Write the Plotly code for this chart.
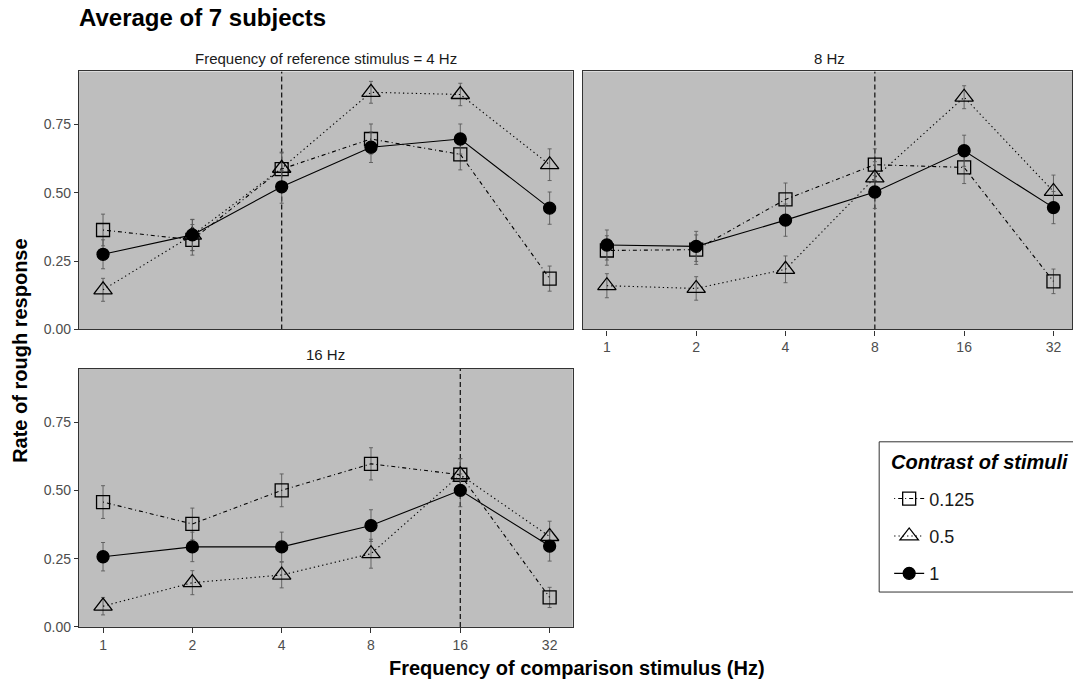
import math
import plotly.graph_objects as go

# Comparison-stimulus frequencies (Hz) shown on every panel
freqs = [1, 2, 4, 8, 16, 32]
freq_labels = ["1", "2", "4", "8", "16", "32"]

# Reference frequency per panel
ref_freqs = [4, 8, 16]
strip_titles = ["Frequency of reference stimulus = 4 Hz", "8 Hz", "16 Hz"]

# Rate of rough responses: [panel][contrast] -> values across freqs
contrast_labels = ["0.125", "0.5", "1"]

rate_ref4_c0125 = [0.364, 0.328, 0.587, 0.697, 0.641, 0.186]
rate_ref4_c05 = [0.145, 0.345, 0.590, 0.868, 0.860, 0.603]
rate_ref4_c1 = [0.275, 0.346, 0.522, 0.667, 0.697, 0.444]

rate_ref8_c0125 = [0.289, 0.292, 0.476, 0.603, 0.593, 0.176]
rate_ref8_c05 = [0.160, 0.150, 0.220, 0.555, 0.850, 0.505]
rate_ref8_c1 = [0.309, 0.304, 0.400, 0.503, 0.654, 0.446]

rate_ref16_c0125 = [0.457, 0.377, 0.500, 0.597, 0.557, 0.108]
rate_ref16_c05 = [0.076, 0.162, 0.190, 0.268, 0.557, 0.331]
rate_ref16_c1 = [0.257, 0.293, 0.293, 0.371, 0.500, 0.296]

# Standard errors
se_ref4_c0125 = [0.058, 0.056, 0.059, 0.055, 0.057, 0.046]
se_ref4_c05 = [0.042, 0.057, 0.059, 0.040, 0.041, 0.058]
se_ref4_c1 = [0.053, 0.057, 0.060, 0.056, 0.055, 0.059]

se_ref8_c0125 = [0.054, 0.054, 0.060, 0.058, 0.059, 0.045]
se_ref8_c05 = [0.044, 0.043, 0.049, 0.059, 0.042, 0.060]
se_ref8_c1 = [0.055, 0.055, 0.059, 0.060, 0.057, 0.059]

se_ref16_c0125 = [0.060, 0.058, 0.060, 0.059, 0.059, 0.037]
se_ref16_c05 = [0.032, 0.044, 0.047, 0.053, 0.059, 0.056]
se_ref16_c1 = [0.052, 0.054, 0.054, 0.058, 0.060, 0.055]

y_ticks = [0.0, 0.25, 0.5, 0.75]
y_tick_labels = ["0.00", "0.25", "0.50", "0.75"]

panels = [
    [(rate_ref4_c0125, se_ref4_c0125), (rate_ref4_c05, se_ref4_c05), (rate_ref4_c1, se_ref4_c1)],
    [(rate_ref8_c0125, se_ref8_c0125), (rate_ref8_c05, se_ref8_c05), (rate_ref8_c1, se_ref8_c1)],
    [(rate_ref16_c0125, se_ref16_c0125), (rate_ref16_c05, se_ref16_c05), (rate_ref16_c1, se_ref16_c1)],
]

W, H = 1073, 689
FONT = "Liberation Sans, Arial, sans-serif"
PANEL_BG = "#BEBEBE"
BORDER = "#333333"
TICK_GREY = "#4D4D4D"
ERR_GREY = "#5A5A5A"

# line types: dot-dash, dotted, solid
styles = [
    dict(symbol="square-open", size=13, dash="1px,3px,4px,3px"),
    dict(symbol="triangle-up-open", size=16, dash="1.3px,3px"),
    dict(symbol="circle", size=12, dash="solid"),
]

# Pixel boxes of the three panels: (left, right, top, bottom)
boxes = [
    (79, 573.3, 72.3, 333.3),
    (583.3, 1073, 72.3, 333.3),
    (79, 573.3, 373.3, 634.3),
]
px_per_oct = 89.4
pad_oct = 0.27
y_top = 261.0 / 276.4

fig = go.Figure()
for p, series in enumerate(panels):
    ax = "" if p == 0 else str(p + 1)
    # dashed marker of the reference frequency
    fig.add_trace(go.Scatter(
        x=[ref_freqs[p], ref_freqs[p]], y=[0, y_top],
        xaxis="x" + ax, yaxis="y" + ax, mode="lines",
        line=dict(color="#1a1a1a", width=1.3, dash="5px,3px"),
        showlegend=False, hoverinfo="skip",
    ))
    for c, (vals, errs) in enumerate(series):
        st = styles[c]
        fig.add_trace(go.Scatter(
            x=freqs, y=vals,
            xaxis="x" + ax, yaxis="y" + ax,
            mode="lines+markers",
            name=contrast_labels[c],
            legendgroup=contrast_labels[c],
            showlegend=(p == 0),
            line=dict(color="black", width=1.1, dash=st["dash"]),
            marker=dict(symbol=st["symbol"], size=st["size"], color="black",
                        line=dict(color="black", width=1.3)),
            error_y=dict(type="data", array=errs, visible=True,
                         color=ERR_GREY, thickness=0.9, width=2),
        ))

layout = dict(
    width=W, height=H,
    margin=dict(l=0, r=0, t=0, b=0),
    paper_bgcolor="white",
    plot_bgcolor=PANEL_BG,
    font=dict(family=FONT, color="black"),
    showlegend=True,
    legend=dict(
        x=890 / W, y=1 - 486 / H, xanchor="left", yanchor="top",
        borderwidth=0, bgcolor="rgba(0,0,0,0)",
        font=dict(family=FONT, size=18, color="#1a1a1a"),
        tracegroupgap=11, itemwidth=30,
    ),
    # legend frame
    shapes=[dict(
        type="rect", xref="paper", yref="paper",
        x0=880 / W, x1=1.02, y0=1 - 599 / H, y1=1 - 447 / H,
        line=dict(color="#333333", width=1), fillcolor="rgba(0,0,0,0)",
    )],
)

for p, (l, r, t, b) in enumerate(boxes):
    ax = "" if p == 0 else str(p + 1)
    lo = -pad_oct
    hi = lo + (r - l) / px_per_oct
    show_x = p in (1, 2)
    show_y = p in (0, 2)
    layout["xaxis" + ax] = dict(
        domain=[l / W, r / W], anchor="y" + ax,
        type="log", range=[lo * math.log10(2), hi * math.log10(2)],
        tickvals=freqs, ticktext=freq_labels,
        showticklabels=show_x, ticks="outside" if show_x else "",
        ticklen=5, tickcolor=BORDER, tickwidth=1,
        tickfont=dict(family=FONT, size=14, color=TICK_GREY),
        showgrid=False, zeroline=False,
        showline=True, linecolor=BORDER, linewidth=1.2, mirror=True,
    )
    layout["yaxis" + ax] = dict(
        domain=[1 - b / H, 1 - t / H], anchor="x" + ax,
        range=[0, y_top],
        tickvals=y_ticks, ticktext=y_tick_labels,
        showticklabels=show_y, ticks="outside" if show_y else "",
        ticklen=4, tickcolor=BORDER, tickwidth=1,
        tickfont=dict(family=FONT, size=14, color=TICK_GREY),
        showgrid=False, zeroline=False,
        showline=True, linecolor=BORDER, linewidth=1.2, mirror=True,
    )

annotations = []
strip_centres = [(79 + 573.3) / 2, (583.3 + 1077) / 2, (79 + 573.3) / 2]
strip_y = [59, 59, 359]
for p in range(3):
    annotations.append(dict(
        text=strip_titles[p], xref="paper", yref="paper",
        x=strip_centres[p] / W, y=1 - strip_y[p] / H,
        xanchor="center", yanchor="middle", showarrow=False,
        font=dict(family=FONT, size=15, color="#1a1a1a"),
    ))
annotations.append(dict(
    text="<b>Average of 7 subjects</b>", xref="paper", yref="paper",
    x=77 / W, y=1 - 18 / H, xanchor="left", yanchor="middle", showarrow=False,
    font=dict(family=FONT, size=24, color="black"),
))
annotations.append(dict(
    text="<b>Rate of rough response</b>", xref="paper", yref="paper",
    x=20 / W, y=1 - 355 / H, xanchor="center", yanchor="middle",
    textangle=-90, showarrow=False,
    font=dict(family=FONT, size=20, color="black"),
))
annotations.append(dict(
    text="<b>Frequency of comparison stimulus (Hz)</b>", xref="paper", yref="paper",
    x=578 / W, y=1 - 676 / H, xanchor="center", yanchor="middle", showarrow=False,
    font=dict(family=FONT, size=20, color="black"),
))
annotations.append(dict(
    text="<b><i>Contrast of stimuli</i></b>", xref="paper", yref="paper",
    x=890 / W, y=1 - 467 / H, xanchor="left", yanchor="middle", showarrow=False,
    font=dict(family=FONT, size=20, color="black"),
))
layout["annotations"] = annotations

fig.update_layout(**layout)
fig.write_html("out.html")
